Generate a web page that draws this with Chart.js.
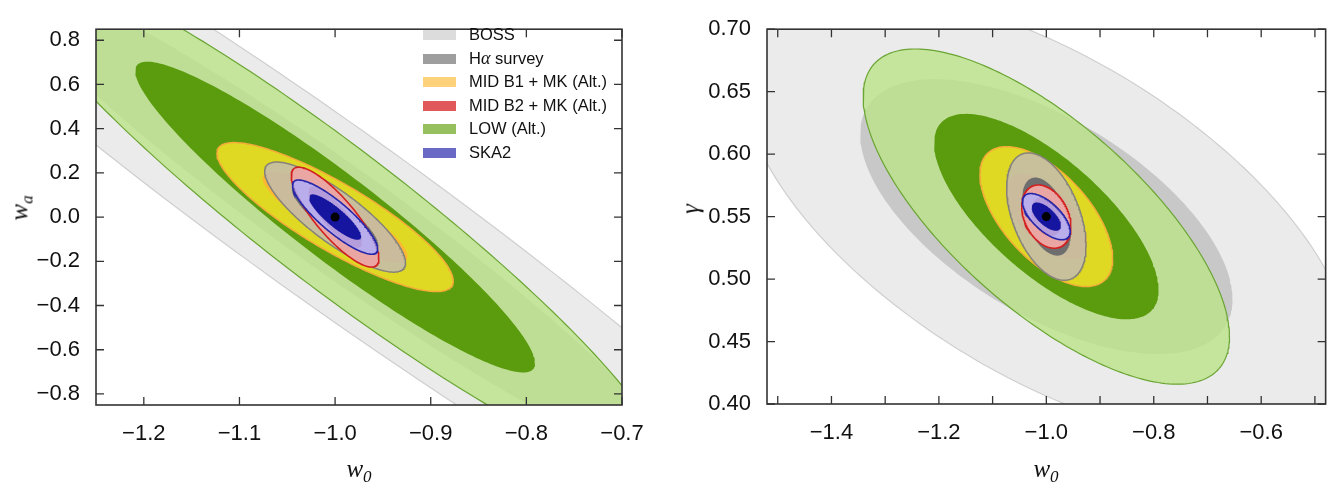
<!DOCTYPE html>
<html><head><meta charset="utf-8">
<script src="https://cdn.jsdelivr.net/npm/chart.js@4.4.1/dist/chart.umd.min.js"></script>
<style>
html,body{margin:0;padding:0;background:#fff;width:1331px;height:482px;overflow:hidden;position:relative;font-family:"Liberation Sans",Arial,sans-serif;}
canvas{position:absolute;top:0;}
#cL{left:0;} #cR{left:665px;}
.lab{position:absolute;font-family:"Liberation Serif",serif;font-style:italic;font-size:25px;color:#111;white-space:nowrap;line-height:1;transform:translate(-50%,-50%);}
.lab.rot{transform:translate(-50%,-50%) rotate(-90deg);}
.lab sub{font-size:17px;vertical-align:-5px;}
.leg{position:absolute;font-size:16.5px;color:#111;line-height:20px;height:20px;white-space:nowrap;}
.leg i{font-family:"Liberation Serif",serif;font-size:18px;}
.sw{position:absolute;width:33px;height:10px;}
</style></head><body>
<canvas id="cL" width="665" height="482"></canvas>
<canvas id="cR" width="666" height="482"></canvas>
<div id="overlay"></div>
<script>
// ---------------- data ----------------
const surveys = ['BOSS', 'H\u03b1 survey', 'MID B1 + MK (Alt.)', 'MID B2 + MK (Alt.)', 'LOW (Alt.)', 'SKA2'];
// fiducial point of each panel
const fiducialLeft = [-1.0, 0.0];    // (w0, wa)
const fiducialRight = [-1.0, 0.55];  // (w0, gamma)
// 1-sigma marginal errors and correlations
const leftSigmaW0  = [0.228, 0.0297, 0.0498, 0.01847, 0.1375, 0.01794];
const leftSigmaWa  = [0.715, 0.1004, 0.1359, 0.0911, 0.4625, 0.0677];
const leftRho      = [-0.963, -0.83, -0.857, -0.83, -0.94, -0.86];
const rightSigmaW0 = [0.228, 0.0298, 0.0498, 0.01847, 0.1375, 0.01794];
const rightSigmaGamma = [0.0724, 0.02056, 0.02258, 0.0102, 0.0541, 0.00746];
const rightRho     = [-0.6, -0.45, -0.6, -0.32, -0.715, -0.65];
// contour levels (2D 68% and 95%)
const contourLevels = [2.48, 1.52];
// tick values
const leftXTicks = [-1.2, -1.1, -1.0, -0.9, -0.8, -0.7];
const leftYTicks = [-0.8, -0.6, -0.4, -0.2, 0.0, 0.2, 0.4, 0.6, 0.8];
const rightXTicks = [-1.5, -1.4, -1.3, -1.2, -1.1, -1.0, -0.9, -0.8, -0.7, -0.6, -0.5];
const rightXLabelled = [-1.4, -1.2, -1.0, -0.8, -0.6];
const rightYTicks = [0.40, 0.45, 0.50, 0.55, 0.60, 0.65, 0.70];

// ---------------- styles ----------------
const drawOrder = [0, 4, 2, 1, 3, 5]; // back to front
const fillOuter = ['#ebebeb', 'rgba(196,188,172,0.88)', '#e0d923', '#eaa6a3', 'rgba(186,227,135,0.8)', 'rgba(170,176,255,0.78)'];
const fillInner = ['#c8c8c8', '#6e6e6e', '#ffb733', '#d85a5a', '#5b9b0e', '#1515a0'];
const edgeOuter = ['#cfcfcf', '#84827a', '#f4ab3a', '#d41f1f', '#6ba533', '#2626aa'];
const edgeWidth = [1.2, 1.5, 1.5, 1.6, 1.2, 1.6];
const legendColors = ['#dcdcdc', '#9e9e9e', '#fdd27a', '#e0585a', '#95c05d', '#6a6ac6'];

function ellipse(cx, cy, sx, sy, rho, k) {
  const pts = [];
  const n = 240, q = Math.sqrt(1 - rho * rho);
  for (let i = 0; i <= n; i++) {
    const t = 2 * Math.PI * i / n;
    pts.push({x: cx + k * sx * Math.cos(t), y: cy + k * sy * (rho * Math.cos(t) + q * Math.sin(t))});
  }
  return pts;
}

function buildDatasets(fid, sxArr, syArr, rhoArr) {
  const layers = [];
  drawOrder.forEach(i => {
    contourLevels.forEach((k, li) => {
      const outer = li === 0;
      layers.push({
        type: 'scatter',
        label: surveys[i] + (outer ? ' 2\u03c3' : ' 1\u03c3'),
        data: ellipse(fid[0], fid[1], sxArr[i], syArr[i], rhoArr[i], k),
        showLine: true,
        fill: 'shape',
        backgroundColor: outer ? fillOuter[i] : fillInner[i],
        borderColor: outer ? edgeOuter[i] : 'rgba(0,0,0,0)',
        borderWidth: outer ? edgeWidth[i] : 1,
        pointRadius: 0, pointHoverRadius: 0, tension: 0, clip: 0
      });
    });
  });
  const N = layers.length;
  layers.forEach((d, idx) => { d.order = N - idx + 1; });
  layers.push({type: 'scatter', label: 'fiducial', data: [{x: fid[0], y: fid[1]}],
    pointRadius: 4.5, backgroundColor: '#000', borderWidth: 0, order: 0});
  return layers;
}

function fmt(dec) {
  return v => { const r = Math.round(v * 1000) / 1000; return (r < 0 ? '\u2212' : '') + Math.abs(r).toFixed(dec); };
}

function makeScale(tickVals, callback, min, max, size, isX, pad) {
  return {
    type: 'linear', min, max,
    grid: {display: false, drawTicks: false},
    border: {display: false},
    afterBuildTicks: s => { s.ticks = tickVals.map(v => ({value: v})); },
    afterFit: s => { if (isX) s.height = size; else s.width = size; },
    ticks: {font: {family: '"Liberation Sans", Arial, sans-serif', size: 22}, color: '#111',
      padding: pad, autoSkip: false, maxRotation: 0, minRotation: 0, callback}
  };
}

const frameTicks = {
  id: 'frameTicks',
  afterDatasetsDraw(chart) {
    const {ctx, chartArea: a, scales: {x, y}} = chart;
    const L = 8;
    ctx.save();
    ctx.strokeStyle = '#333'; ctx.lineWidth = 1.3;
    ctx.beginPath();
    x.ticks.forEach(t => { const p = x.getPixelForValue(t.value);
      ctx.moveTo(p, a.bottom); ctx.lineTo(p, a.bottom - L); ctx.moveTo(p, a.top); ctx.lineTo(p, a.top + L); });
    y.ticks.forEach(t => { const p = y.getPixelForValue(t.value);
      ctx.moveTo(a.left, p); ctx.lineTo(a.left + L, p); ctx.moveTo(a.right, p); ctx.lineTo(a.right - L, p); });
    ctx.stroke();
    ctx.lineWidth = 1.6;
    ctx.strokeRect(a.left, a.top, a.right - a.left, a.bottom - a.top);
    ctx.restore();
  }
};

const common = {responsive: false, devicePixelRatio: 1, animation: false, events: [],
  plugins: {legend: {display: false}, tooltip: {enabled: false}}};

new Chart(document.getElementById('cL'), {
  type: 'scatter',
  data: {datasets: buildDatasets(fiducialLeft, leftSigmaW0, leftSigmaWa, leftRho)},
  options: Object.assign({}, common, {
    layout: {padding: {left: 0, right: 43, top: 13, bottom: 0}},
    scales: {
      x: makeScale(leftXTicks, fmt(1), -1.25, -0.7, 77, true, 16),
      y: makeScale(leftYTicks, fmt(1), -0.85, 0.85, 96, false, 16)
    }
  }),
  plugins: [frameTicks]
});

new Chart(document.getElementById('cR'), {
  type: 'scatter',
  data: {datasets: buildDatasets(fiducialRight, rightSigmaW0, rightSigmaGamma, rightRho)},
  options: Object.assign({}, common, {
    layout: {padding: {left: 0, right: 5, top: 15, bottom: 0}},
    scales: {
      x: makeScale(rightXTicks, (v) => rightXLabelled.some(t => Math.abs(t - v) < 1e-6) ? fmt(1)(v) : '', -1.52, -0.48, 78, true, 16),
      y: makeScale(rightYTicks, fmt(2), 0.40, 0.70, 102, false, 16)
    }
  }),
  plugins: [frameTicks]
});

// ---------------- legend and axis titles ----------------
const ov = document.getElementById('overlay');
const legendTop = 35.3, legendStep = 23.45;
surveys.forEach((name, i) => {
  const cy = legendTop + i * legendStep;
  const sw = document.createElement('div');
  sw.className = 'sw'; sw.style.left = '423px'; sw.style.top = (cy - 5) + 'px'; sw.style.background = legendColors[i];
  ov.appendChild(sw);
  const t = document.createElement('div');
  t.className = 'leg'; t.style.left = '469px'; t.style.top = (cy - 11) + 'px';
  if (i === 1) t.innerHTML = 'H<i>\u03b1</i> survey'; else t.textContent = name;
  ov.appendChild(t);
});
function addLabel(html, x, y, rot) {
  const d = document.createElement('div');
  d.className = 'lab' + (rot ? ' rot' : '');
  d.style.left = x + 'px'; d.style.top = y + 'px';
  d.innerHTML = html;
  ov.appendChild(d);
}
addLabel('w<sub>a</sub>', 21, 208, true);
addLabel('w<sub>0</sub>', 359, 470, false);
addLabel('\u03b3', 690, 209, true);
addLabel('w<sub>0</sub>', 1046, 470, false);
</script>
</body></html>
